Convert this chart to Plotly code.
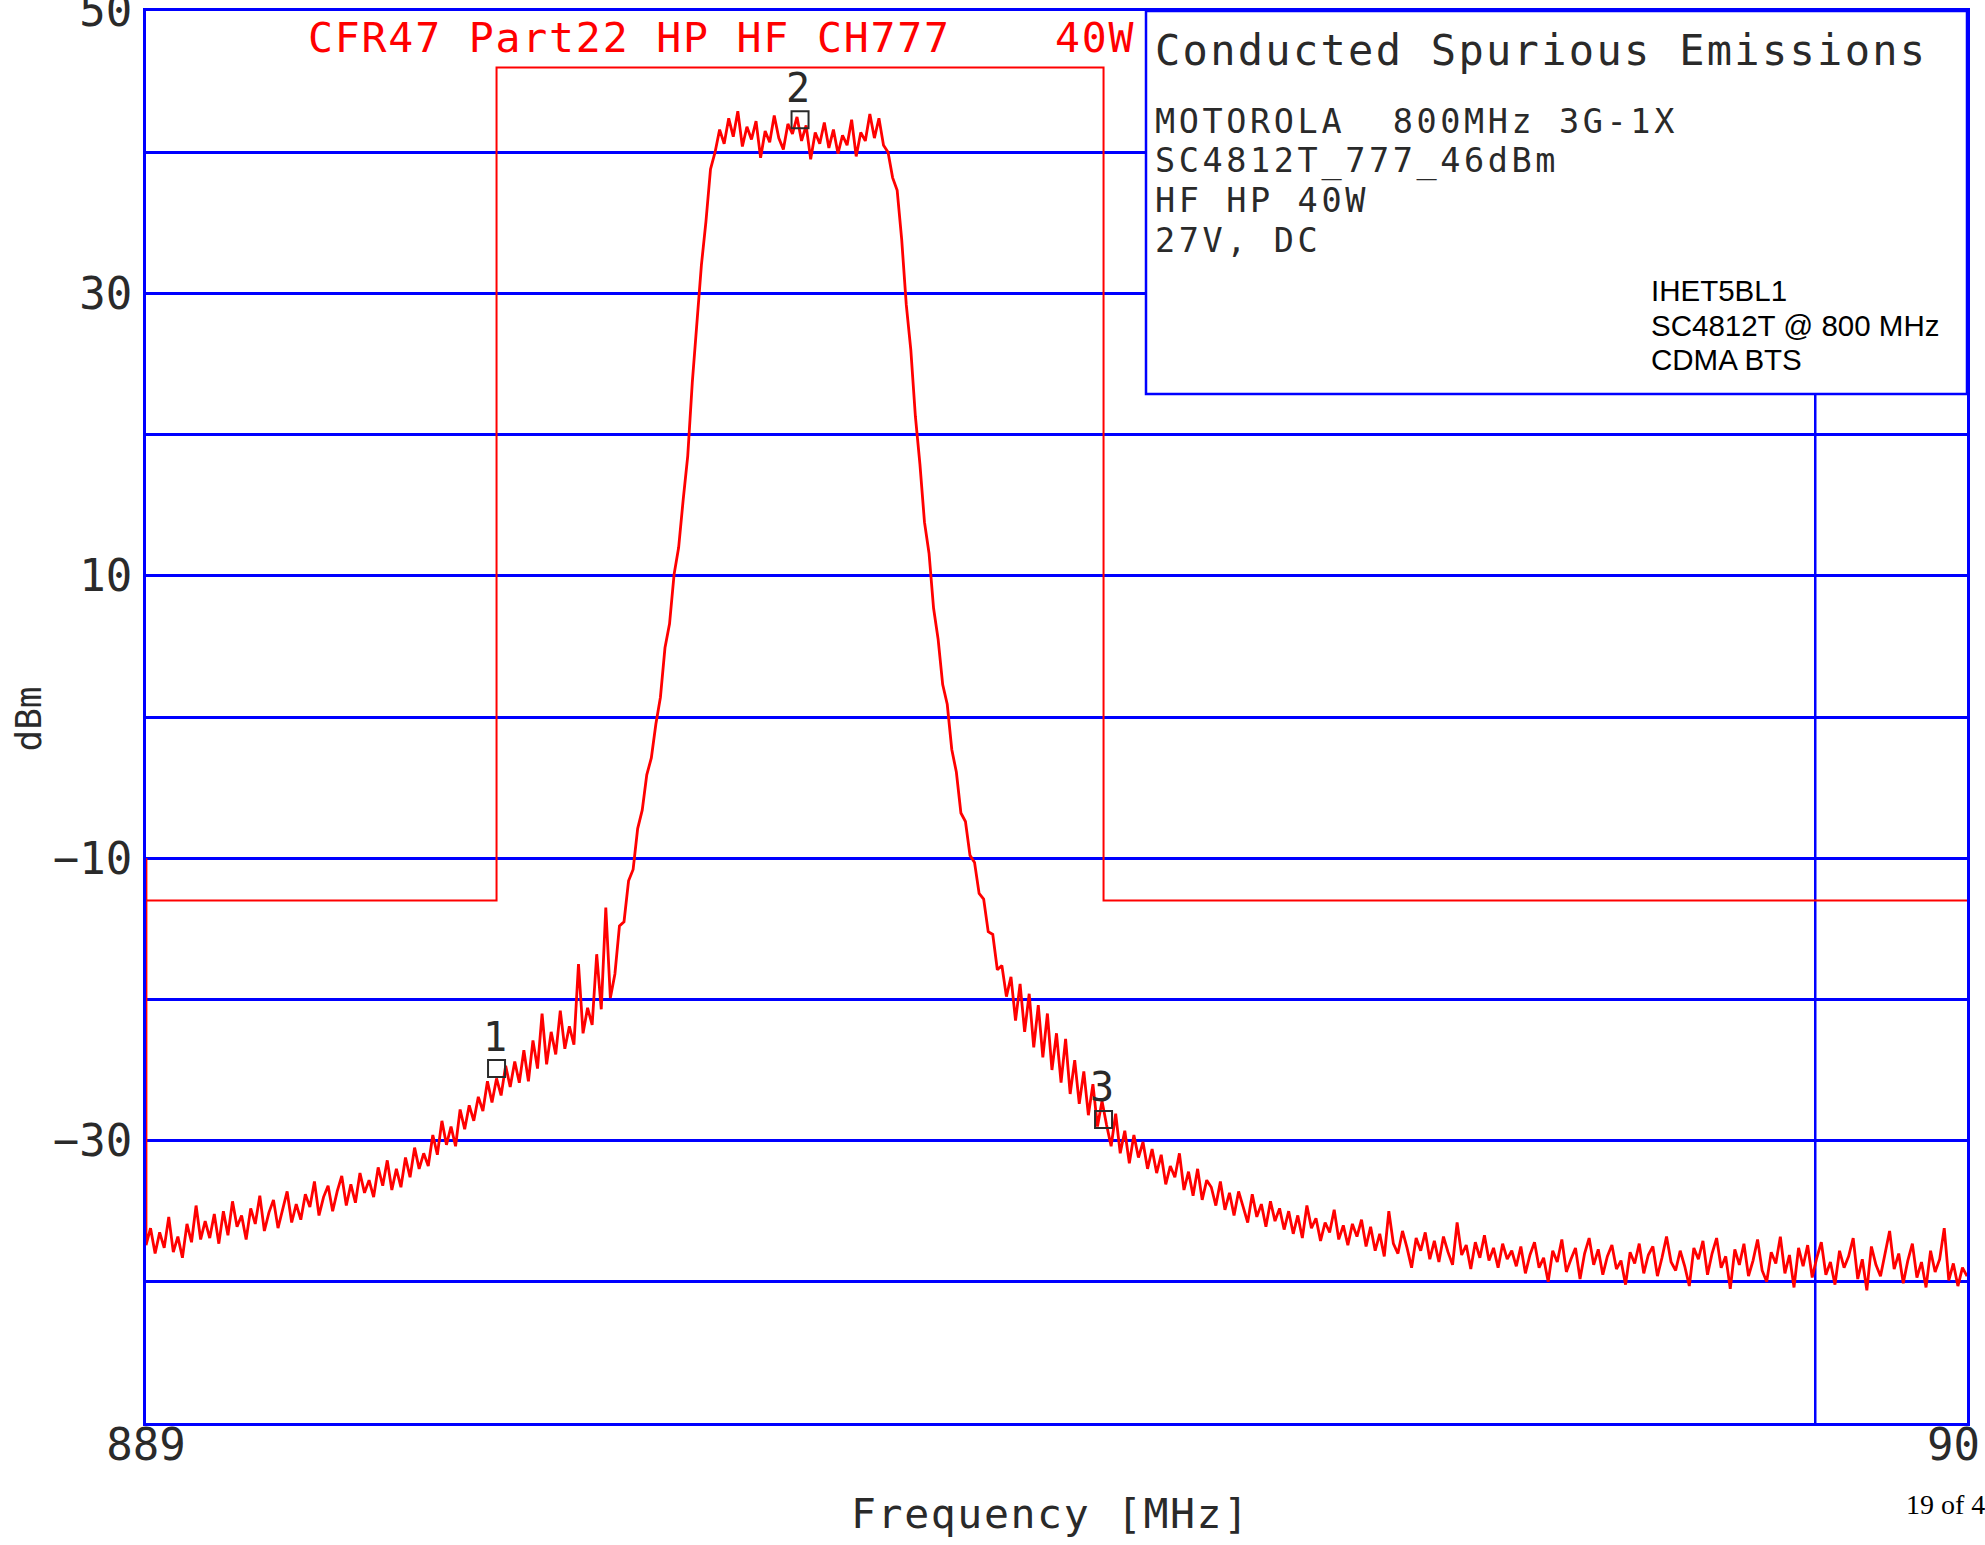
import plotly.graph_objects as go

# ---------------- data ----------------
F_START = 889.0          # MHz, first sweep point
F_STEP = 0.03            # MHz between sweep points (401-point sweep)

level_dbm = [
    -37.4, -36.2, -38.0, -36.5, -37.6, -35.4, -37.9, -36.8, -38.3, -35.9,
    -37.2, -34.6, -37.0, -35.7, -36.9, -35.2, -37.3, -35.0, -36.7, -34.3,
    -36.1, -35.3, -37.0, -34.8, -35.9, -33.9, -36.4, -35.1, -34.2, -36.2,
    -34.9, -33.6, -35.8, -34.5, -35.6, -33.8, -34.7, -32.9, -35.3, -34.0,
    -33.2, -35.0, -33.6, -32.5, -34.6, -33.1, -34.4, -32.3, -33.7, -32.8,
    -34.0, -31.9, -33.2, -31.4, -33.5, -32.0, -33.3, -31.2, -32.6, -30.5,
    -32.0, -30.9, -31.8, -29.6, -31.0, -28.6, -30.3, -29.0, -30.4, -27.8,
    -29.2, -27.5, -28.6, -26.9, -27.9, -25.8, -27.3, -25.6, -26.8, -24.7,
    -26.2, -24.4, -25.9, -23.6, -25.8, -22.9, -24.9, -21.0, -24.6, -22.3,
    -23.9, -20.8, -23.5, -21.9, -23.2, -17.5, -22.4, -20.6, -21.8, -16.8,
    -20.7, -13.5, -19.9, -18.2, -14.8, -14.5, -11.6, -10.8, -7.9, -6.6,
    -4.1, -2.9, -0.5, 1.4, 4.9, 6.6, 10.1, 12.0, 15.4, 18.5,
    23.7, 27.8, 32.0, 35.1, 38.8, 40.0, 41.6, 40.6, 42.4, 41.1,
    42.9, 40.4, 41.8, 40.9, 42.2, 39.6, 41.5, 40.7, 42.6, 41.0,
    40.2, 42.0, 41.3, 42.5, 40.8, 41.9, 39.5, 41.4, 40.6, 42.1,
    40.3, 41.6, 39.9, 41.2, 40.5, 42.3, 39.7, 41.4, 40.8, 42.7,
    41.0, 42.4, 40.5, 40.0, 38.2, 37.3, 33.8, 29.2, 26.0, 21.3,
    17.9, 13.8, 11.6, 7.7, 5.5, 2.3, 0.9, -2.3, -3.9, -6.8,
    -7.4, -9.8, -10.3, -12.5, -12.9, -15.2, -15.4, -17.9, -17.6, -19.8,
    -18.4, -21.5, -18.9, -22.3, -19.6, -23.4, -20.4, -24.1, -21.0, -25.0,
    -22.4, -25.9, -22.8, -26.7, -24.3, -27.4, -25.1, -28.2, -26.0, -29.0,
    -27.2, -28.9, -30.4, -28.1, -30.9, -29.3, -31.6, -29.6, -31.2, -30.1,
    -32.0, -30.6, -32.3, -31.0, -33.1, -31.8, -32.6, -30.9, -33.5, -32.2,
    -33.9, -32.0, -34.2, -32.8, -33.3, -34.6, -32.9, -34.9, -33.7, -35.3,
    -33.6, -34.7, -35.8, -33.8, -35.4, -34.5, -36.1, -34.3, -35.7, -34.8,
    -36.3, -35.0, -36.6, -35.3, -36.9, -34.6, -36.2, -35.5, -37.1, -35.8,
    -36.5, -34.9, -37.0, -36.0, -37.4, -35.9, -36.8, -35.6, -37.5, -36.1,
    -37.8, -36.6, -38.2, -35.0, -37.3, -38.0, -36.4, -37.6, -39.0, -36.9,
    -37.8, -36.5, -38.4, -37.1, -38.6, -36.8, -37.9, -38.8, -35.8, -38.1,
    -37.4, -39.1, -37.2, -38.3, -36.7, -38.5, -37.6, -39.0, -37.3, -38.4,
    -37.8, -38.9, -37.5, -39.4, -38.1, -37.2, -39.0, -38.3, -40.0, -37.8,
    -38.6, -37.0, -39.3, -38.4, -37.6, -39.8, -38.0, -36.9, -38.8, -37.7,
    -39.5, -38.2, -37.4, -39.1, -38.5, -40.2, -37.9, -38.7, -37.3, -39.4,
    -38.1, -37.5, -39.6, -38.3, -36.8, -38.6, -39.2, -37.8, -38.9, -40.3,
    -37.6, -38.4, -37.1, -39.5, -38.0, -36.9, -39.0, -38.2, -40.5, -37.7,
    -38.8, -37.3, -39.6, -38.5, -37.0, -39.2, -40.0, -37.9, -38.7, -36.8,
    -39.4, -38.1, -40.4, -37.6, -38.9, -37.4, -39.7, -38.3, -37.2, -39.5,
    -38.6, -40.2, -37.8, -39.0, -38.2, -36.9, -39.8, -38.4, -40.6, -37.5,
    -38.8, -39.6, -37.9, -36.4, -39.1, -38.0, -40.1, -38.5, -37.3, -39.7,
    -38.6, -40.4, -37.8, -39.3, -38.4, -36.2, -39.9, -38.7, -40.3, -39.0,
    -39.6,
]
assert len(level_dbm) == 401, len(level_dbm)
freq_mhz = [round(F_START + F_STEP * i, 2) for i in range(len(level_dbm))]

# first plotted point of the trace (vertical stroke on the left edge)
start_f = [889.0]
start_db = [-10.0]

# emission mask (CFR47 Part22)
limit_f = [889.0, 891.31, 891.31, 895.31, 895.31, 901.0]
limit_db = [-13.0, -13.0, 46.0, 46.0, -13.0, -13.0]

# markers
marker_f = [891.31, 893.31, 895.31]
marker_db = [-24.9, 42.3, -28.5]
marker_labels = ["1", "2", "3"]

# axes
x_range = [889.0, 901.0]
y_range = [-50.0, 50.0]
x_tickvals = [889.0]
x_ticktext = ["889"]
x_end_label = "90"          # visible part of the right-hand frequency label
y_tickvals = [-40, -30, -20, -10, 0, 10, 20, 30, 40, 50]
y_ticktext = ["", "\u221230", "", "\u221210", "", "10", "", "30", "", "50"]
x_grid_extra = [900.0]

# texts
title_left = "CFR47 Part22 HP HF CH777"
title_right = "40W"
box_title = "Conducted Spurious Emissions"
box_lines = ["MOTOROLA\u00a0\u00a0800MHz 3G-1X", "SC4812T_777_46dBm", "HF HP 40W", "27V, DC"]
stamp_lines = ["IHET5BL1", "SC4812T @ 800 MHz", "CDMA BTS"]
x_title = "Frequency [MHz]"
y_title = "dBm"
page_note = "19 of 4"

# ---------------- layout helpers ----------------
W, H = 1985, 1545
L, R, T, B = 146, 1967, 11, 1423          # plot area in pixels


def px(x):
    return (x - L) / (R - L)


def py(y):
    return (B - y) / (B - T)


BLUE = "#0000FF"
RED = "#FF0000"
INK = "#2a2a2a"
MONO = "DejaVu Sans Mono"


def spaced(s, ls):
    return '<span style="letter-spacing:%.1fpx">%s</span>' % (ls, s)


fig = go.Figure()

fig.add_trace(go.Scatter(
    x=limit_f, y=limit_db, mode="lines",
    line=dict(color=RED, width=2), hoverinfo="skip", showlegend=False))

fig.add_trace(go.Scatter(
    x=start_f + freq_mhz, y=start_db + level_dbm, mode="lines",
    line=dict(color=RED, width=2.8), showlegend=False))

fig.add_trace(go.Scatter(
    x=marker_f, y=marker_db, mode="markers",
    marker=dict(symbol="square-open", size=17, color=INK, line=dict(width=2, color=INK)),
    showlegend=False))

shapes = []
for xv in x_grid_extra:
    shapes.append(dict(type="line", xref="x", yref="y", x0=xv, x1=xv,
                       y0=y_range[0], y1=y_range[1],
                       line=dict(color=BLUE, width=2.5), layer="below"))
# info box
shapes.append(dict(type="rect", xref="paper", yref="paper",
                   x0=px(1146), x1=1.0, y0=py(394), y1=1.0,
                   fillcolor="white", line=dict(color=BLUE, width=2.5), layer="above"))

annotations = []


def add_text(text, x, y, size, color=INK, family=MONO, xanchor="left", angle=0):
    annotations.append(dict(text=text, xref="paper", yref="paper", x=px(x), y=py(y),
                            xanchor=xanchor, yanchor="middle", showarrow=False,
                            textangle=angle, borderpad=0, align="left",
                            font=dict(family=family, size=size, color=color)))


add_text(spaced(title_left, 1.8), 307, 37, 41.5, RED)
add_text(spaced(title_right, 1.8), 1136, 37, 41.5, RED, xanchor="right")
add_text(spaced(box_title, 2.3), 1154, 50, 42)
for k, line in enumerate(box_lines):
    add_text(spaced(line, 3.6), 1154, 121.5 + 39.5 * k, 33.5)
for k, line in enumerate(stamp_lines):
    add_text(line, 1650, 291 + 34.5 * k, 29.5, "#000000", "Liberation Sans")

add_text(spaced(x_title, 1.6), 1050, 1513, 41.5, xanchor="center")
add_text(y_title, 27.5, 719, 36, xanchor="center", angle=-90)
add_text(page_note, 1986, 1504, 28, "#000000", "Liberation Serif", xanchor="right")
add_text(x_end_label, 1926, 1444, 44)

for f, v, lab in zip(marker_f, marker_db, marker_labels):
    annotations.append(dict(text=lab, x=f, y=v, xref="x", yref="y", showarrow=False,
                            yshift=32, xshift=-2, xanchor="center", yanchor="middle",
                            font=dict(family=MONO, size=40, color=INK)))

fig.update_layout(
    width=W, height=H,
    margin=dict(l=L, r=W - R, t=T, b=H - B, autoexpand=False),
    paper_bgcolor="white", plot_bgcolor="white",
    shapes=shapes, annotations=annotations,
    xaxis=dict(range=x_range, tickvals=x_tickvals, ticktext=x_ticktext,
               showgrid=False, zeroline=False, ticks="", ticklabelstandoff=-19,
               ticklabeloverflow="allow",
               showline=True, mirror=True, linecolor=BLUE, linewidth=3,
               layer="below traces",
               tickfont=dict(family=MONO, size=44, color=INK)),
    yaxis=dict(range=y_range, tickvals=y_tickvals, ticktext=y_ticktext,
               showgrid=True, gridcolor=BLUE, gridwidth=2.5, zeroline=False,
               ticks="", ticklabelstandoff=2, ticklabeloverflow="allow",
               showline=True, mirror=True, linecolor=BLUE, linewidth=3,
               layer="below traces",
               tickfont=dict(family=MONO, size=44, color=INK)),
    showlegend=False,
)

fig.write_html("out.html")
